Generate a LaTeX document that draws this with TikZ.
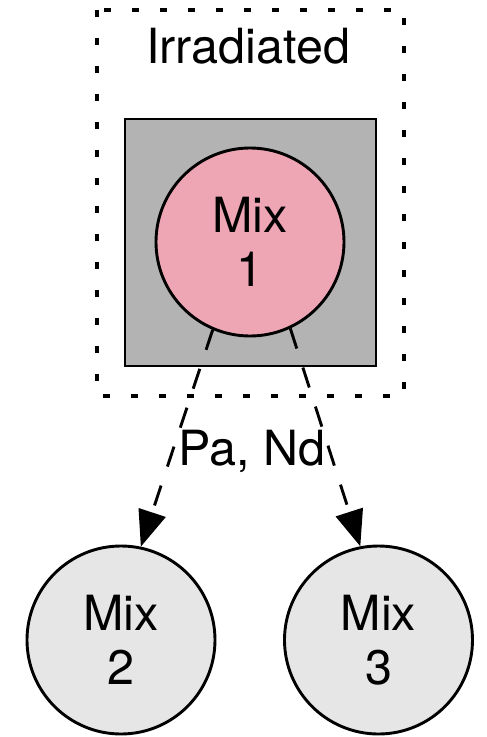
\documentclass[tikz,border=0pt]{standalone}
\usepackage{fontspec}
\setmainfont{TeX Gyre Heros}
\usetikzlibrary{arrows.meta}
\definecolor{pinkfill}{RGB}{238,166,181}
\definecolor{grayfill}{RGB}{179,179,179}
\definecolor{lightfill}{RGB}{230,230,230}
\tikzset{
  mixnode/.style={circle,draw=black,line width=2.9pt,minimum size=188pt,inner sep=0pt,align=center,font=\fontsize{48.5}{54}\selectfont},
  flow/.style={draw=black,line width=2.9pt,dash pattern=on 21pt off 20pt,-{Triangle[length=36pt,width=28pt]}},
  clusterbox/.style={draw=black,line width=3.2pt,dash pattern=on 7pt off 21pt},
  labeltext/.style={font=\fontsize{48.5}{54}\selectfont,inner sep=0pt}
}
\begin{document}
\begin{tikzpicture}[x=1pt,y=-1pt]
\useasboundingbox (0,0) rectangle (487,737);
\draw[clusterbox] (97,10) rectangle (404,396);
\node[labeltext,anchor=base] (irr) at (248,63) {Irradiated};
\draw[fill=grayfill,draw=black,line width=2.9pt] (125,119) rectangle (376,366);
\node[mixnode,fill=pinkfill] (m1) at (250,242) {Mix\\1};
\node[mixnode,fill=lightfill] (m2) at (121,640) {Mix\\2};
\node[mixnode,fill=lightfill] (m3) at (378.5,640) {Mix\\3};
\draw[flow] (m1.-113) -- (m2.78);
\draw[flow] (m1.-65) -- (m3.101);
\node[labeltext,anchor=base] (lbl) at (252,465) {Pa, Nd};
\end{tikzpicture}
\end{document}
